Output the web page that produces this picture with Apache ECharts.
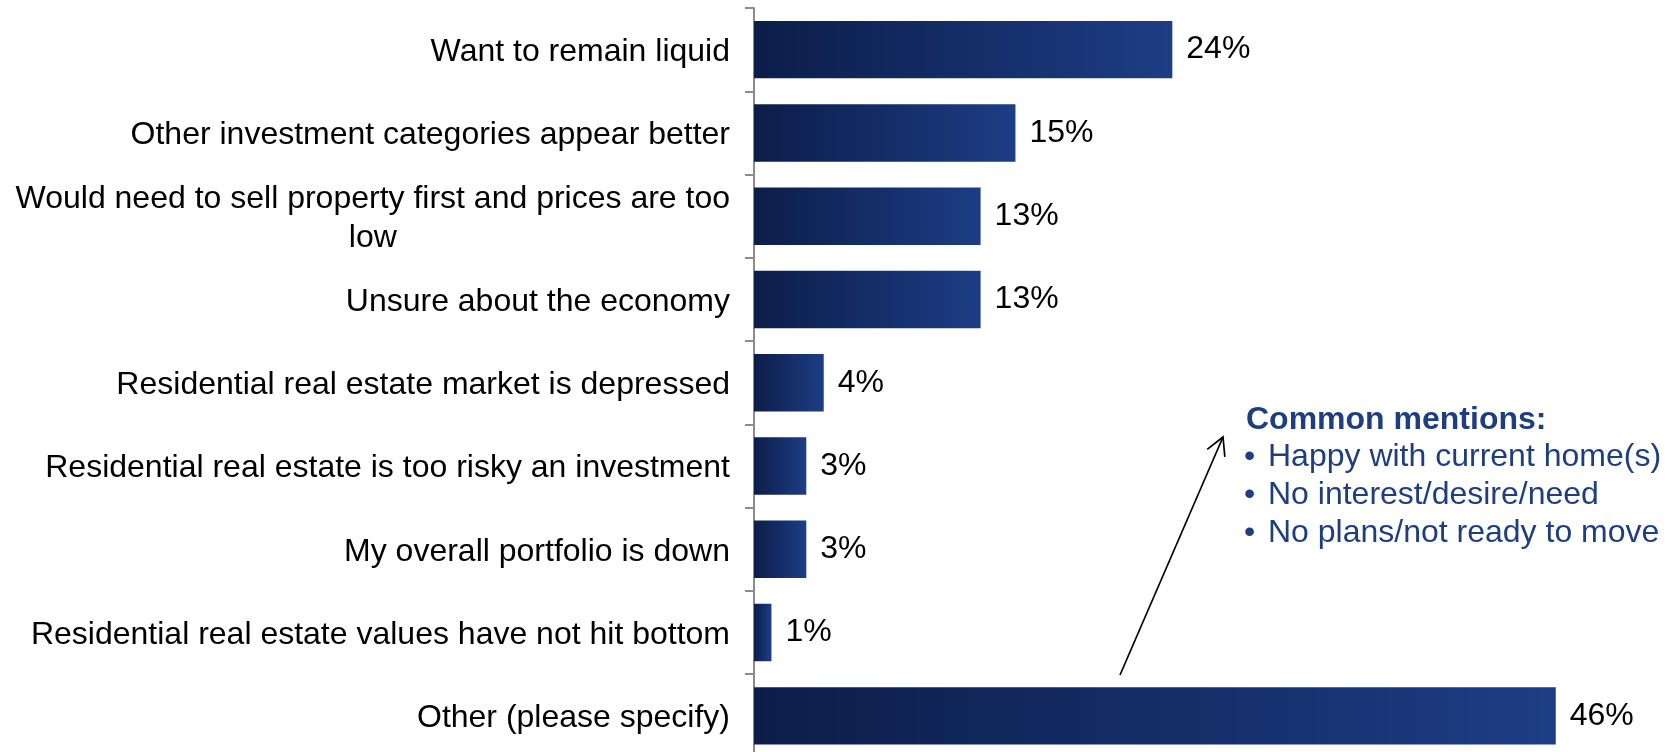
<!DOCTYPE html>
<html>
<head>
<meta charset="utf-8">
<style>
  html, body { margin: 0; padding: 0; background: #ffffff; }
  #chart { width: 1673px; height: 752px; }
</style>
<script src="https://cdn.jsdelivr.net/npm/echarts@6/dist/echarts.min.js"></script>
</head>
<body>
<div id="chart"></div>
<script>
// Reasons given, top to bottom
const categories = [
  'Want to remain liquid',
  'Other investment categories appear better',
  'Would need to sell property first and prices are too\nlow',
  'Unsure about the economy',
  'Residential real estate market is depressed',
  'Residential real estate is too risky an investment',
  'My overall portfolio is down',
  'Residential real estate values have not hit bottom',
  'Other (please specify)'
];
// Share of respondents, in percent
const values = [24, 15, 13, 13, 4, 3, 3, 1, 46];

// Callout text for the "Other" answers
const calloutTitle = 'Common mentions:';
const calloutItems = [
  'Happy with current home(s)',
  'No interest/desire/need',
  'No plans/not ready to move'
];

const FONT = '"Liberation Sans", Arial, sans-serif';
const NAVY = '#1F3E7F';

const chart = echarts.init(document.getElementById('chart'), null, { renderer: 'canvas' });

const calloutGraphics = [
  {
    type: 'text', left: 1246, top: 404,
    style: { text: calloutTitle, fill: NAVY, font: 'bold 32px ' + FONT }
  }
];
calloutItems.forEach((t, i) => {
  calloutGraphics.push({
    type: 'text', left: 1244, top: 441 + i * 38,
    style: { text: '\u2022', fill: NAVY, font: '32px ' + FONT }
  });
  calloutGraphics.push({
    type: 'text', left: 1268, top: 441 + i * 38,
    style: { text: t, fill: NAVY, font: '32px ' + FONT }
  });
});

// Arrow pointing from the "Other" bar up to the callout
const arrowFrom = [1120, 675];
const arrowTo = [1223, 437];
const ang = Math.atan2(arrowTo[1] - arrowFrom[1], arrowTo[0] - arrowFrom[0]);
const headLen = 20, headSpread = 0.5;
const headA = [arrowTo[0] - headLen * Math.cos(ang - headSpread), arrowTo[1] - headLen * Math.sin(ang - headSpread)];
const headB = [arrowTo[0] - headLen * Math.cos(ang + headSpread), arrowTo[1] - headLen * Math.sin(ang + headSpread)];

const arrowGraphics = [
  {
    type: 'line',
    shape: { x1: arrowFrom[0], y1: arrowFrom[1], x2: arrowTo[0], y2: arrowTo[1] },
    style: { stroke: '#000', lineWidth: 1.7 }
  },
  {
    type: 'polyline',
    shape: { points: [headA, arrowTo, headB] },
    style: { stroke: '#000', lineWidth: 1.7, fill: null }
  }
];

chart.setOption({
  animation: false,
  backgroundColor: '#ffffff',
  grid: {
    left: 754, right: 47.5, top: 8, bottom: -5.5,
    containLabel: false,
    outerBoundsMode: 'none'
  },
  xAxis: {
    type: 'value', min: 0, max: 50, show: false,
    splitLine: { show: false }
  },
  yAxis: {
    type: 'category',
    data: categories,
    inverse: true,
    axisLine: { show: true, lineStyle: { color: '#8c8c8c', width: 2 } },
    axisTick: { show: true, length: 9, lineStyle: { color: '#8c8c8c', width: 2 } },
    axisLabel: {
      margin: 24,
      padding: [5, 0, 0, 0],
      color: '#000',
      fontFamily: FONT,
      fontSize: 32,
      lineHeight: 39,
      formatter: function (v) {
        return v.split('\n').map(s => '{c|' + s + '}').join('\n');
      },
      rich: {
        c: { align: 'center', fontFamily: FONT, fontSize: 32, lineHeight: 39, color: '#000' }
      }
    }
  },
  series: [{
    type: 'bar',
    data: values,
    barCategoryGap: '31%',
    itemStyle: {
      color: new echarts.graphic.LinearGradient(0, 0, 1, 0, [
        { offset: 0, color: '#0c1d49' },
        { offset: 1, color: '#1d3d85' }
      ])
    },
    label: {
      show: true,
      position: 'right',
      distance: 14,
      color: '#000',
      fontFamily: FONT,
      fontSize: 32,
      formatter: '{c}%'
    }
  }],
  graphic: calloutGraphics.concat(arrowGraphics)
});
</script>
</body>
</html>
